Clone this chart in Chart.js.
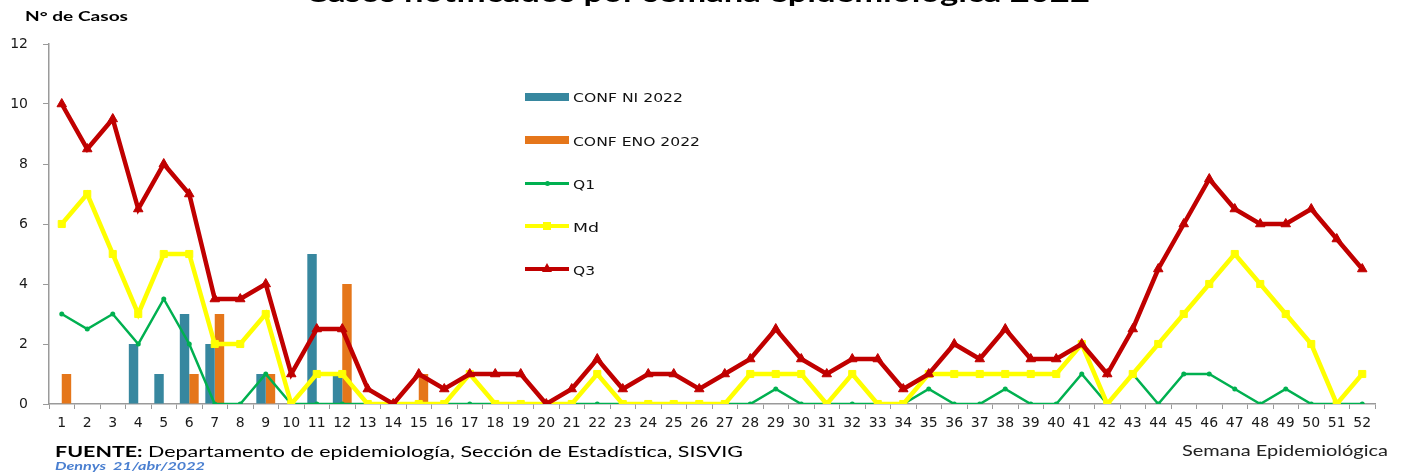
<!DOCTYPE html>
<html><head><meta charset="utf-8">
<script src="https://cdn.jsdelivr.net/npm/chart.js@4.4.0/dist/chart.umd.min.js"></script>
<style>
html,body{margin:0;padding:0;background:#fff;overflow:hidden}
#wrap{position:relative;width:1405px;height:475px;overflow:hidden}
canvas{position:absolute;left:0;top:0}
.t{position:absolute;white-space:nowrap;transform-origin:0 0;line-height:1;color:#111}
.sw{position:absolute}
</style></head><body>
<div id="wrap">
<canvas id="c" width="1405" height="475"></canvas>
<div class="t" id="title" style="left:305px;top:-24px;font:bold 26px Lato;color:#000" data-w="785">Casos notificados por semana epidemiológica 2022</div>
<div class="t" id="ylab" style="left:25px;top:7px;font:bold 14px Lato;color:#000" data-w="103">N° de Casos</div>

<div class="sw" style="left:525px;top:93px;width:44px;height:8px;background:#37879F"></div>
<div class="t" style="left:573px;top:90px;font:13px 'DejaVu Sans'" data-w="110">CONF NI 2022</div>
<div class="sw" style="left:525px;top:136px;width:44px;height:8px;background:#E5761A"></div>
<div class="t" style="left:573px;top:134px;font:13px 'DejaVu Sans'" data-w="127">CONF ENO 2022</div>
<div class="sw" style="left:525px;top:182px;width:44px;height:3px;background:#00B050"></div>
<div class="sw" style="left:545px;top:181px;width:5px;height:5px;border-radius:50%;background:#00B050"></div>
<div class="t" style="left:573px;top:177px;font:13px 'DejaVu Sans'" data-w="22">Q1</div>
<div class="sw" style="left:525px;top:224px;width:44px;height:4px;background:#FFFF00"></div>
<div class="sw" style="left:543px;top:222px;width:8px;height:8px;background:#FFFF00"></div>
<div class="t" style="left:573px;top:220px;font:13px 'DejaVu Sans'" data-w="26">Md</div>
<div class="sw" style="left:525px;top:267px;width:44px;height:4px;background:#C00000"></div>
<div class="sw" style="left:542px;top:263px;width:0;height:0;border-left:5px solid transparent;border-right:5px solid transparent;border-bottom:9px solid #C00000"></div>
<div class="t" style="left:573px;top:263px;font:13px 'DejaVu Sans'" data-w="22">Q3</div>

<div class="t" id="src" style="left:55px;top:441px;font:16px Lato;color:#000" data-w="688"><b>FUENTE:</b> Departamento de epidemiología, Sección de Estadística, SISVIG</div>
<div class="t" id="auth" style="left:55px;top:459px;font:italic bold 11px Lato;color:#4A7FD0" data-w="150">Dennys&nbsp; 21/abr/2022</div>
<div class="t" id="xlab" style="left:1182px;top:441px;font:15px Lato;color:#222" data-w="206">Semana Epidemiológica</div>
</div>
<script>
// ---- data ----
const weekLabels = ['1','2','3','4','5','6','7','8','9','10','11','12','13','14','15','16','17','18','19','20','21','22','23','24','25','26','27','28','29','30','31','32','33','34','35','36','37','38','39','40','41','42','43','44','45','46','47','48','49','50','51','52'];
const confNI2022 = [null,null,null,2,1,3,2,null,1,null,5,1,null,null,null,null,null,null,null,null,null,null,null,null,null,null,null,null,null,null,null,null,null,null,null,null,null,null,null,null,null,null,null,null,null,null,null,null,null,null,null,null];
const confENO2022 = [1,null,null,null,null,1,3,null,1,null,null,4,null,null,1,null,null,null,null,null,null,null,null,null,null,null,null,null,null,null,null,null,null,null,null,null,null,null,null,null,null,null,null,null,null,null,null,null,null,null,null,null];
const q1 = [3,2.5,3,2,3.5,2,0,0,1,0,0,0,0,0,0,0,0,0,0,0,0,0,0,0,0,0,0,0,0.5,0,0,0,0,0,0.5,0,0,0.5,0,0,1,0,1,0,1,1,0.5,0,0.5,0,0,0];
const md = [6,7,5,3,5,5,2,2,3,0,1,1,0,0,0,0,1,0,0,0,0,1,0,0,0,0,0,1,1,1,0,1,0,0,1,1,1,1,1,1,2,0,1,2,3,4,5,4,3,2,0,1];
const q3 = [10,8.5,9.5,6.5,8,7,3.5,3.5,4,1,2.5,2.5,0.5,0,1,0.5,1,1,1,0,0.5,1.5,0.5,1,1,0.5,1,1.5,2.5,1.5,1,1.5,1.5,0.5,1,2,1.5,2.5,1.5,1.5,2,1,2.5,4.5,6,7.5,6.5,6,6,6.5,5.5,4.5];
const yTicks = [0,2,4,6,8,10,12];

// fit text widths
document.querySelectorAll('[data-w]').forEach(el=>{
  const w = el.getBoundingClientRect().width;
  const target = parseFloat(el.dataset.w);
  el.style.transform = 'scaleX(' + (target / w) + ')';
});

const axisColor = '#9A9A9A';
const tickFont = {family: 'DejaVu Sans', size: 14};
new Chart(document.getElementById('c'), {
  type: 'bar',
  data: {
    labels: weekLabels,
    datasets: [
      {type:'line', label:'Q3', data:q3, borderColor:'#C00000', backgroundColor:'#C00000', borderWidth:4.5, pointStyle:'triangle', pointRadius:5.5, pointBorderWidth:1, pointBackgroundColor:'#C00000', pointBorderColor:'#C00000', tension:0, fill:false, order:0},
      {type:'line', label:'Md', data:md, borderColor:'#FFFF00', backgroundColor:'#FFFF00', borderWidth:4.5, pointStyle:'rect', pointRadius:5, pointBorderWidth:1, pointBackgroundColor:'#FFFF00', pointBorderColor:'#FFFF00', tension:0, fill:false, order:1},
      {type:'line', label:'Q1', data:q1, borderColor:'#00B050', backgroundColor:'#00B050', borderWidth:2.5, pointStyle:'circle', pointRadius:2.5, pointBorderWidth:0, pointBackgroundColor:'#00B050', tension:0, fill:false, order:2},
      {label:'CONF NI 2022', data:confNI2022, backgroundColor:'#37879F', borderWidth:0, categoryPercentage:0.74, barPercentage:1, order:3},
      {label:'CONF ENO 2022', data:confENO2022, backgroundColor:'#E5761A', borderWidth:0, categoryPercentage:0.74, barPercentage:1, order:4}
    ]
  },
  options: {
    responsive:false, animation:false, devicePixelRatio:1,
    layout:{padding:{left:0, top:44, right:30, bottom:0}},
    plugins:{legend:{display:false}, tooltip:{enabled:false}, title:{display:false}},
    scales:{
      x:{
        offset:true,
        grid:{display:true, drawOnChartArea:false, drawTicks:true, tickLength:5, offset:true, color:axisColor, tickColor:axisColor},
        border:{display:true, color:axisColor, width:1.5},
        ticks:{font:tickFont, color:'#1a1a1a', padding:6, maxRotation:0, autoSkip:false},
        afterFit:(s)=>{ s.height = 71; }
      },
      y:{
        min:0, max:12,
        afterBuildTicks:(s)=>{ s.ticks = yTicks.map(v=>({value:v})); },
        grid:{display:true, drawOnChartArea:false, drawTicks:true, tickLength:6, color:axisColor, tickColor:axisColor},
        border:{display:true, color:axisColor, width:1.5},
        ticks:{font:tickFont, color:'#1a1a1a', padding:15},
        afterFit:(s)=>{ s.width = 49; }
      }
    }
  }
});
</script>
</body></html>
